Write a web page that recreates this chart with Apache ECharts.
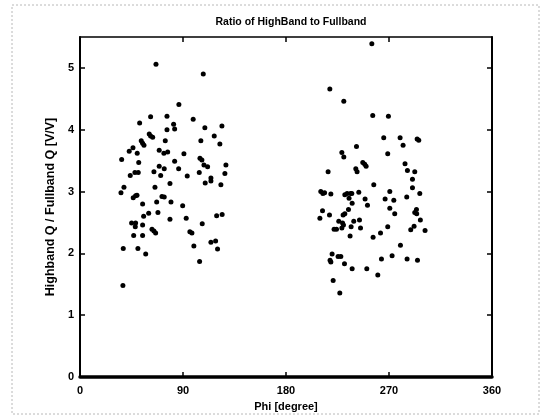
<!DOCTYPE html>
<html>
<head>
<meta charset="utf-8">
<script src="https://cdn.jsdelivr.net/npm/echarts@6/dist/echarts.min.js"></script>
<style>
  html, body { margin: 0; padding: 0; background: #fff; }
  #chart { width: 542px; height: 420px; }
</style>
</head>
<body>
<div id="chart"></div>
<script>
// Phi (degree) and HighBand/FullBand ratio for the first angular group
const phiGroupA = [
  66.4, 107.7, 86.4, 61.7, 76.0, 52.1, 98.9, 81.8, 76.0, 82.7, 109.1, 124.0,
  60.5, 61.7, 63.5, 117.3, 74.5, 53.5, 54.7, 55.9, 105.6, 122.2, 46.3, 43.0,
  50.0, 69.2, 73.3, 76.6, 90.8, 36.4, 104.8, 106.5, 82.7, 51.3, 108.3, 111.5,
  127.5, 69.2, 73.6, 86.2, 48.0, 50.9, 64.6, 43.9, 70.5, 93.7, 104.2, 126.6,
  114.4, 38.4, 35.8, 65.5, 78.6, 109.4, 114.4, 123.1, 46.5, 48.6, 49.8, 54.7,
  67.0, 71.6, 73.6, 79.5, 89.7, 55.6, 60.0, 68.1, 78.6, 92.8, 119.4, 124.2,
  45.1, 48.6, 48.3, 54.7, 62.9, 64.6, 66.1, 96.0, 97.8, 106.8, 46.9, 54.7,
  114.4, 118.5, 99.5, 37.8, 50.6, 120.2, 57.4, 104.5, 37.5
];
const ratioGroupA = [
  5.06, 4.90, 4.41, 4.21, 4.22, 4.11, 4.17, 4.09, 4.00, 4.01, 4.03, 4.06,
  3.93, 3.90, 3.88, 3.90, 3.82, 3.82, 3.78, 3.75, 3.82, 3.77, 3.71, 3.65,
  3.62, 3.67, 3.62, 3.64, 3.61, 3.52, 3.54, 3.51, 3.49, 3.47, 3.43, 3.40,
  3.43, 3.41, 3.37, 3.37, 3.31, 3.31, 3.32, 3.26, 3.26, 3.25, 3.31, 3.29,
  3.22, 3.07, 2.98, 3.07, 3.13, 3.14, 3.17, 3.11, 2.90, 2.93, 2.94, 2.80,
  2.83, 2.92, 2.91, 2.83, 2.77, 2.60, 2.65, 2.66, 2.55, 2.57, 2.61, 2.63,
  2.49, 2.49, 2.43, 2.46, 2.39, 2.36, 2.33, 2.35, 2.33, 2.48, 2.29, 2.29,
  2.18, 2.20, 2.12, 2.08, 2.08, 2.07, 1.99, 1.87, 1.48
];

// Phi (degree) and ratio for the second angular group
const phiGroupB = [
  255.0, 218.3, 230.5, 255.8, 269.5, 265.4, 279.7, 294.6, 296.0, 282.3, 241.6,
  228.8, 230.5, 268.9, 247.1, 248.8, 250.0, 284.0, 241.0, 242.1, 216.8, 286.1,
  292.5, 290.5, 256.7, 290.5, 270.7, 296.9, 210.4, 212.2, 213.7, 219.2, 231.4,
  233.4, 236.4, 237.5, 243.6, 235.1, 237.8, 249.1, 251.2, 266.6, 274.2, 285.5,
  270.7, 294.0, 292.5, 294.2, 275.0, 211.9, 218.0, 234.6, 209.6, 229.9, 231.4,
  226.1, 229.4, 230.2, 239.2, 244.2, 297.4, 291.9, 289.0, 301.5, 222.0, 224.1,
  228.8, 236.9, 245.1, 268.9, 262.6, 256.1, 236.0, 280.0, 220.3, 225.5, 227.9,
  218.5, 219.2, 231.1, 263.4, 272.7, 285.8, 294.9, 237.8, 250.6, 260.2, 221.2,
  227.0
];
const ratioGroupB = [
  5.39, 4.66, 4.46, 4.23, 4.22, 3.87, 3.87, 3.85, 3.83, 3.75, 3.73,
  3.63, 3.56, 3.61, 3.47, 3.44, 3.41, 3.45, 3.37, 3.32, 3.32, 3.34,
  3.32, 3.20, 3.11, 3.06, 3.00, 2.97, 3.00, 2.97, 2.98, 2.96, 2.95,
  2.97, 2.97, 2.97, 2.99, 2.89, 2.81, 2.88, 2.78, 2.88, 2.86, 2.91,
  2.73, 2.71, 2.66, 2.64, 2.64, 2.69, 2.62, 2.71, 2.57, 2.62, 2.64,
  2.52, 2.49, 2.46, 2.52, 2.54, 2.54, 2.44, 2.38, 2.37, 2.39, 2.39,
  2.41, 2.43, 2.41, 2.43, 2.33, 2.26, 2.28, 2.13, 1.99, 1.95, 1.95,
  1.89, 1.86, 1.83, 1.91, 1.96, 1.91, 1.89, 1.75, 1.75, 1.65, 1.56,
  1.36
];

const xTicks = [0, 90, 180, 270, 360];
const yTicks = [0, 1, 2, 3, 4, 5];

const points = [];
phiGroupA.forEach((p, i) => points.push([p, ratioGroupA[i]]));
phiGroupB.forEach((p, i) => points.push([p, ratioGroupB[i]]));

const FONT = '"Liberation Sans", Arial, sans-serif';

const chart = echarts.init(document.getElementById('chart'), null, { renderer: 'canvas' });

const tickStyle = { show: true, inside: true, length: 5, lineStyle: { color: '#000', width: 1.5 } };

chart.setOption({
  animation: false,
  backgroundColor: '#fff',
  title: {
    text: 'Ratio of HighBand to Fullband',
    left: 286,
    top: 12,
    textAlign: 'center',
    textStyle: { fontFamily: FONT, fontSize: 10.5, fontWeight: 'bold', color: '#000' }
  },
  graphic: [{
    type: 'rect',
    shape: { x: 12, y: 5, width: 527, height: 409 },
    style: { fill: 'none', stroke: '#b8b8b8', lineWidth: 1, lineDash: [2, 2] },
    silent: true,
    z: -1
  }],
  grid: { left: 80, right: 50, top: 37, bottom: 43 },
  xAxis: [{
    type: 'value',
    position: 'bottom',
    min: 0, max: 360, interval: 90,
    name: 'Phi [degree]',
    nameLocation: 'middle',
    nameGap: 24,
    nameTextStyle: { fontFamily: FONT, fontSize: 11, fontWeight: 'bold', color: '#000' },
    axisLine: { show: true, onZero: false, lineStyle: { color: '#000', width: 3.5 } },
    axisTick: Object.assign({ customValues: xTicks }, tickStyle),
    axisLabel: { customValues: xTicks, margin: 8, fontFamily: FONT, fontSize: 11, fontWeight: 'bold', color: '#000' },
    splitLine: { show: false }
  }, {
    type: 'value',
    position: 'top',
    min: 0, max: 360, interval: 90,
    axisLine: { show: true, onZero: false, lineStyle: { color: '#000', width: 1.5 } },
    axisTick: Object.assign({ customValues: xTicks }, tickStyle),
    axisLabel: { show: false },
    splitLine: { show: false }
  }],
  yAxis: [{
    type: 'value',
    position: 'left',
    min: 0, max: 5.5, interval: 1,
    name: 'Highband Q / Fullband Q [V/V]',
    nameLocation: 'middle',
    nameGap: 19,
    nameRotate: 90,
    nameTextStyle: { fontFamily: FONT, fontSize: 12.5, fontWeight: 'bold', color: '#000' },
    axisLine: { show: true, onZero: false, lineStyle: { color: '#000', width: 2 } },
    axisTick: Object.assign({ customValues: yTicks }, tickStyle),
    axisLabel: { customValues: yTicks, margin: 6, fontFamily: FONT, fontSize: 11, fontWeight: 'bold', color: '#000' },
    splitLine: { show: false }
  }, {
    type: 'value',
    position: 'right',
    min: 0, max: 5.5, interval: 1,
    axisLine: { show: true, onZero: false, lineStyle: { color: '#000', width: 2 } },
    axisTick: Object.assign({ customValues: yTicks }, tickStyle),
    axisLabel: { show: false },
    splitLine: { show: false }
  }],
  series: [{
    type: 'scatter',
    xAxisIndex: 0,
    yAxisIndex: 0,
    data: points,
    symbol: 'circle',
    symbolSize: 5,
    itemStyle: { color: '#000', opacity: 1 }
  }]
});
</script>
</body>
</html>
